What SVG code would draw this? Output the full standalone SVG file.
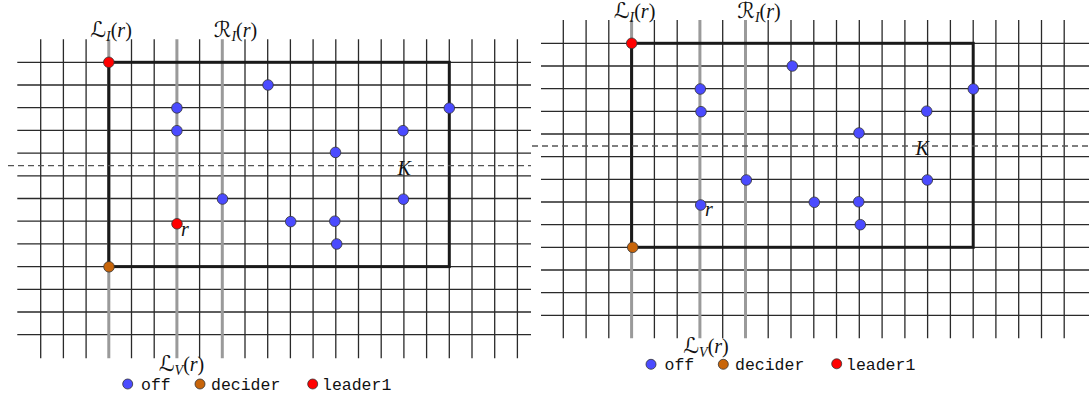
<svg xmlns="http://www.w3.org/2000/svg" width="1089" height="399" viewBox="0 0 1089 399">
<style>
.g{stroke:#2a2a2a;stroke-width:1.3;fill:none}
.gr{stroke:#9a9a9a;stroke-width:3;fill:none}
.box{stroke:#1a1a1a;stroke-width:3;fill:none}
.dash{stroke:#555;stroke-width:1.3;stroke-dasharray:6 4;fill:none}
.off{fill:#4b4bff;stroke:#333;stroke-width:0.8}
.dec{fill:#c8650a;stroke:#333;stroke-width:0.8}
.lead{fill:#ff0000;stroke:#333;stroke-width:0.8}
.m{font-family:"Liberation Serif",serif;font-size:20px;fill:#111}
.s{font-family:"DejaVu Serif","DejaVu Sans",serif;font-size:22px}
.i{font-style:italic}
.sub{font-size:14px;font-style:italic}
.tt{font-family:"Liberation Mono",monospace;font-size:16.5px;fill:#111}
</style>
<rect width="1089" height="399" fill="#fff"/>
<g id="left-panel">
<g id="left-grid">
<path class="g" d="M17.3 62.3H531M17.3 85H531M17.3 107.7H531M17.3 130.4H531M17.3 153.1H531M17.3 175.8H531M17.3 198.5H531M17.3 221.2H531M17.3 243.9H531M17.3 266.6H531M17.3 289.3H531M17.3 312H531M17.3 334.7H531"/>
<path class="g" d="M40.7 39.3V358.3M63.4 39.3V358.3M86.1 39.3V358.3M131.5 39.3V358.3M154.2 39.3V358.3M199.6 39.3V358.3M245 39.3V358.3M267.7 39.3V358.3M290.4 39.3V358.3M313.1 39.3V358.3M335.8 39.3V358.3M358.5 39.3V358.3M381.2 39.3V358.3M403.9 39.3V358.3M426.6 39.3V358.3M449.3 39.3V358.3M472 39.3V358.3M494.7 39.3V358.3M517.4 39.3V358.3"/>
<path class="gr" d="M108.8 39.3V358.3M176.9 39.3V358.3M222.3 39.3V358.3"/>
<rect class="box" x="108.8" y="62.3" width="340.5" height="204.3"/>
<path class="dash" d="M8 165.7H531"/>
</g>
<g id="left-nodes">
<circle class="lead" cx="108.8" cy="62.3" r="5.3"/>
<circle class="off" cx="268" cy="85" r="5.3"/>
<circle class="off" cx="176.9" cy="107.9" r="5.3"/>
<circle class="off" cx="176.9" cy="130.7" r="5.3"/>
<circle class="off" cx="449.3" cy="108.1" r="5.3"/>
<circle class="off" cx="403" cy="130.7" r="5.3"/>
<circle class="off" cx="335.5" cy="152.4" r="5.3"/>
<circle class="off" cx="222.5" cy="199" r="5.3"/>
<circle class="off" cx="403.4" cy="199.2" r="5.3"/>
<circle class="lead" cx="177" cy="223.8" r="5.3"/>
<circle class="off" cx="290.7" cy="221.6" r="5.3"/>
<circle class="off" cx="334.8" cy="221.2" r="5.3"/>
<circle class="off" cx="336.7" cy="244" r="5.3"/>
<circle class="dec" cx="109" cy="266.8" r="5.3"/>
</g>
<g id="left-labels">
<text class="m" x="111" y="37" text-anchor="middle"><tspan class="s">ℒ</tspan><tspan class="sub" dy="4">I</tspan><tspan dy="-4">(</tspan><tspan class="i">r</tspan><tspan>)</tspan></text>
<text class="m" x="235.5" y="37" text-anchor="middle"><tspan class="s">ℛ</tspan><tspan class="sub" dy="4">I</tspan><tspan dy="-4">(</tspan><tspan class="i">r</tspan><tspan>)</tspan></text>
<text class="m i" x="397.5" y="175">K</text>
<text class="m i" x="181" y="236">r</text>
<text class="m" x="181.5" y="371" text-anchor="middle"><tspan class="s">ℒ</tspan><tspan class="sub" dy="4">V</tspan><tspan dy="-4">(</tspan><tspan class="i">r</tspan><tspan>)</tspan></text>
</g>
<g id="left-legend">
<circle class="off" cx="127.7" cy="384" r="5"/>
<text class="tt" x="141" y="390">off</text>
<circle class="dec" cx="200" cy="384" r="5"/>
<text class="tt" x="211" y="390">decider</text>
<circle class="lead" cx="312.7" cy="384" r="5"/>
<text class="tt" x="322" y="390">leader1</text>
</g>
</g>
<g id="right-panel">
<g id="right-grid">
<path class="g" d="M541 43.3H1089M541 66H1089M541 88.6H1089M541 111.3H1089M541 134H1089M541 156.7H1089M541 179.3H1089M541 202H1089M541 224.7H1089M541 247.3H1089M541 270H1089M541 292.7H1089M541 315.3H1089"/>
<path class="g" d="M563.3 20V338.3M586.1 20V338.3M608.8 20V338.3M654.4 20V338.3M677.2 20V338.3M722.7 20V338.3M768.2 20V338.3M791 20V338.3M813.8 20V338.3M836.5 20V338.3M859.3 20V338.3M882.1 20V338.3M904.9 20V338.3M927.6 20V338.3M950.4 20V338.3M973.2 20V338.3M995.9 20V338.3M1018.7 20V338.3M1041.5 20V338.3M1064.2 20V338.3"/>
<path class="gr" d="M631.6 20V338.3M699.9 20V338.3M745.5 20V338.3"/>
<rect class="box" x="631.6" y="43.3" width="341.6" height="204"/>
<path class="dash" d="M532 146H1089"/>
</g>
<g id="right-nodes">
<circle class="lead" cx="631.7" cy="43.3" r="5.3"/>
<circle class="off" cx="792.3" cy="66" r="5.3"/>
<circle class="off" cx="700.3" cy="89" r="5.3"/>
<circle class="off" cx="701" cy="111.7" r="5.3"/>
<circle class="off" cx="973.3" cy="89" r="5.3"/>
<circle class="off" cx="926.7" cy="111.2" r="5.3"/>
<circle class="off" cx="859" cy="133" r="5.3"/>
<circle class="off" cx="746.3" cy="180" r="5.3"/>
<circle class="off" cx="927.3" cy="180" r="5.3"/>
<circle class="off" cx="700.7" cy="205" r="5.3"/>
<circle class="off" cx="814.3" cy="202.3" r="5.3"/>
<circle class="off" cx="858.7" cy="201.8" r="5.3"/>
<circle class="off" cx="860.3" cy="224.7" r="5.3"/>
<circle class="dec" cx="632.7" cy="247.3" r="5.3"/>
</g>
<g id="right-labels">
<text class="m" x="634.5" y="18" text-anchor="middle"><tspan class="s">ℒ</tspan><tspan class="sub" dy="4">I</tspan><tspan dy="-4">(</tspan><tspan class="i">r</tspan><tspan>)</tspan></text>
<text class="m" x="759" y="18" text-anchor="middle"><tspan class="s">ℛ</tspan><tspan class="sub" dy="4">I</tspan><tspan dy="-4">(</tspan><tspan class="i">r</tspan><tspan>)</tspan></text>
<text class="m i" x="915.5" y="155">K</text>
<text class="m i" x="705" y="216">r</text>
<text class="m" x="706" y="353" text-anchor="middle"><tspan class="s">ℒ</tspan><tspan class="sub" dy="4">V</tspan><tspan dy="-4">(</tspan><tspan class="i">r</tspan><tspan>)</tspan></text>
</g>
<g id="right-legend">
<circle class="off" cx="651" cy="364.3" r="5"/>
<text class="tt" x="664.5" y="370">off</text>
<circle class="dec" cx="723.3" cy="364.3" r="5"/>
<text class="tt" x="735" y="370">decider</text>
<circle class="lead" cx="836.7" cy="363.8" r="5"/>
<text class="tt" x="846" y="370">leader1</text>
</g>
</g>
</svg>
